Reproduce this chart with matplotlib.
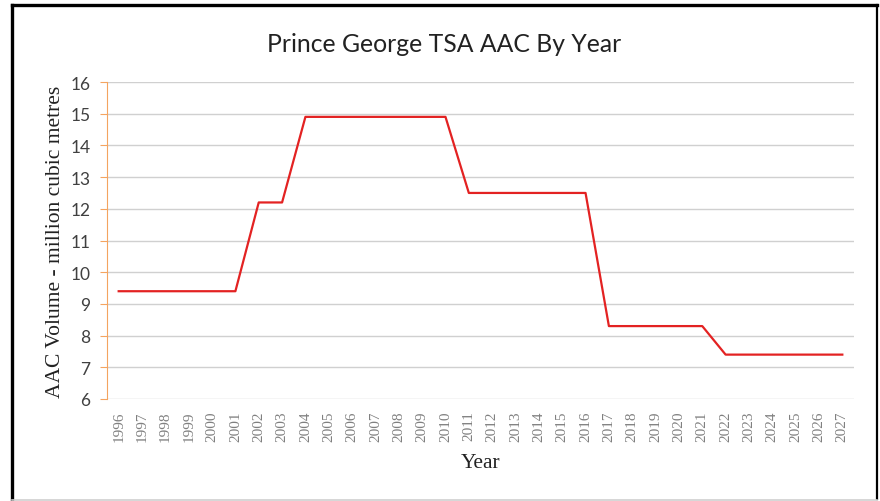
import matplotlib
matplotlib.use("Agg")
import matplotlib.pyplot as plt
from matplotlib.lines import Line2D

# Allowable annual cut by year, million cubic metres
years = list(range(1996, 2028))
aac = [9.4, 9.4, 9.4, 9.4, 9.4, 9.4,
       12.2, 12.2,
       14.9, 14.9, 14.9, 14.9, 14.9, 14.9, 14.9,
       12.5, 12.5, 12.5, 12.5, 12.5, 12.5,
       8.3, 8.3, 8.3, 8.3, 8.3,
       7.4, 7.4, 7.4, 7.4, 7.4, 7.4]
year_labels = [str(y) for y in years]

W, H = 880, 502
fig = plt.figure(figsize=(W / 100, H / 100), dpi=100)
fig.patch.set_facecolor("white")

# frame: black on left, top and right, light grey along the bottom
def fline(x0, y0, x1, y1, color, lw):
    fig.add_artist(Line2D([x0 / W, x1 / W], [1 - y0 / H, 1 - y1 / H],
                          transform=fig.transFigure, color=color, linewidth=lw))

fline(11.5, 500, 11.5, 5.5, "black", 2.4)
fline(11.5, 5.5, 876.5, 5.5, "black", 2.4)
fline(876.5, 5.5, 876.5, 500, "black", 1.6)
fline(11.5, 500.5, 876.5, 500.5, "#cfcfcf", 1.2)

ax = fig.add_axes([107 / W, 1 - 400 / H, 747 / W, 317 / H])
xs = list(range(len(years)))
ax.plot(xs, aac, color="#E32222", linewidth=1.6)

ax.set_xlim(-0.5, len(years) - 0.5)
ax.set_ylim(6, 16)
ax.set_yticks(range(6, 17))
ax.set_xticks(xs)
ax.set_xticklabels(year_labels, rotation=90, family="Liberation Serif",
                   fontsize=11, color="#808080")
for lab in ax.get_yticklabels():
    lab.set_family("Lato")
    lab.set_fontsize(12.5)
    lab.set_color("#404040")

ax.grid(axis="y", color="#d0d0d0", linewidth=1)
ax.set_axisbelow(True)
for side in ("top", "right", "bottom"):
    ax.spines[side].set_visible(False)
ax.spines["left"].set_color("#F4A460")
ax.tick_params(axis="y", color="#F4A460", length=5, pad=7)
ax.tick_params(axis="x", length=0, pad=8)

ax.set_ylabel("AAC Volume - million cubic metres", family="Liberation Serif",
              fontsize=15.5, color="#222222", labelpad=4)
fig.text(481 / W, 1 - 464 / H, "Year", family="Liberation Serif",
         fontsize=15.5, ha="center", va="center", color="#222222")
fig.text(444 / W, 1 - 44 / H, "Prince George TSA AAC By Year", family="Lato",
         fontsize=17.8, ha="center", va="center", color="#222222")

fig.savefig("out.png", dpi=100)
